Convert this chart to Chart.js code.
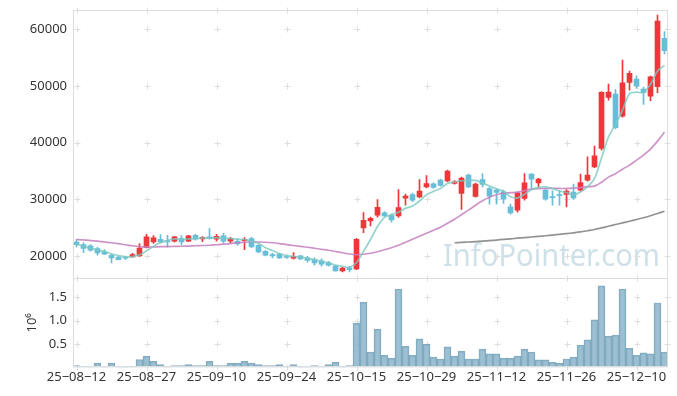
<!DOCTYPE html>
<html><head><meta charset="utf-8">
<script src="https://cdn.jsdelivr.net/npm/chart.js@4.4.1/dist/chart.umd.min.js"></script>
<style>html,body{margin:0;padding:0;background:#fff;}#wrap{width:677px;height:396px;position:relative;}</style>
</head><body><div id="wrap"><canvas id="c" width="677" height="396"></canvas></div>
<script>
const dates = ['25-08-12','25-08-13','25-08-14','25-08-18','25-08-19','25-08-20','25-08-21','25-08-22','25-08-25','25-08-26',
'25-08-27','25-08-28','25-08-29','25-09-01','25-09-02','25-09-03','25-09-04','25-09-05','25-09-08','25-09-09',
'25-09-10','25-09-11','25-09-12','25-09-15','25-09-16','25-09-17','25-09-18','25-09-19','25-09-22','25-09-23',
'25-09-24','25-09-25','25-09-26','25-09-29','25-09-30','25-10-01','25-10-02','25-10-10','25-10-13','25-10-14',
'25-10-15','25-10-16','25-10-17','25-10-20','25-10-21','25-10-22','25-10-23','25-10-24','25-10-27','25-10-28',
'25-10-29','25-10-30','25-10-31','25-11-03','25-11-04','25-11-05','25-11-06','25-11-07','25-11-10','25-11-11',
'25-11-12','25-11-13','25-11-14','25-11-17','25-11-18','25-11-19','25-11-20','25-11-21','25-11-24','25-11-25',
'25-11-26','25-11-27','25-11-28','25-12-01','25-12-02','25-12-03','25-12-04','25-12-05','25-12-08','25-12-09',
'25-12-10','25-12-11','25-12-12','25-12-15','25-12-16'];

const opens = [22470,22010,21770,21310,20710,20120,19820,19720,19820,20000,
21480,22470,22950,22650,22600,23070,22600,23660,23000,23360,
22950,23530,22600,22600,22700,23070,21890,20830,20250,20300,
19820,19590,20000,19650,19360,19120,18830,18230,17350,17920,
17700,24950,26190,27190,27600,27190,27070,30200,30850,30430,
32190,32720,33380,33250,32790,31030,34260,30500,33500,31910,
31610,31310,28660,28070,30140,34440,32900,31610,30460,30810,
30850,31260,31610,33380,35730,38980,47990,48570,44690,50640,
51220,49450,48220,49860,58410];

const highs = [22950,22300,22010,21500,21130,20300,19950,19950,20470,22190,
23830,23600,23780,23660,23480,23600,23660,23800,23400,24840,
23830,24000,23300,23070,23250,23300,22000,20950,20480,20470,
20000,20600,20120,19950,19680,19500,19060,18360,18000,18180,
23130,27670,26840,29960,27810,27370,31730,30900,31080,33500,
34200,32900,33550,35140,33290,33900,34440,32850,34560,32140,
31790,31610,29140,31260,34560,34560,33680,31790,31490,31490,
31730,32670,34440,37490,39380,49010,50340,49400,54580,52640,
51810,49810,51750,62530,59580];

const lows = [21590,20600,20830,20120,20250,18760,19300,19360,19770,19900,
21400,22200,22300,21590,22420,22000,22500,22770,22500,22950,
22600,22240,22240,21890,21130,21500,20530,20000,19650,19560,
19600,19420,19360,18890,18360,18180,18180,17300,17200,17200,
17560,24130,25300,26840,26990,25950,26800,28960,29580,30250,
32000,31900,32320,33080,32670,28200,32050,30370,32190,29140,
29140,29260,27370,27720,29840,31910,32190,29840,28960,28960,
28660,29980,31430,33200,35580,38680,47510,42480,44510,49280,
49580,46750,47390,48800,55640];

const closes = [22010,21310,21010,20530,20300,19650,19360,19600,20250,21410,
23360,23180,22470,22470,23360,22470,23530,22950,23300,23070,
23480,22600,23070,22120,22950,21590,20710,20120,20000,19650,
19720,19950,19470,19190,18760,18530,18360,17350,17880,17560,
22950,26300,26660,28600,27070,26360,28540,30550,29840,31430,
32790,32090,32440,34970,33080,33730,32190,32670,32620,30550,
31200,30020,27600,31130,32900,33550,33550,30020,30280,30640,
31430,30250,32970,34260,37670,48870,48930,42620,50570,52230,
49990,48800,51630,61470,56220];

const ma5 = [22070,21710,21360,21050,20800,20380,20060,19870,19890,20200,
20900,21700,22350,22750,23000,22950,23000,23080,23170,23140,
23220,23100,23090,22930,22900,22530,22250,21450,20950,20420,
20080,19940,19790,19570,19330,19060,18760,18400,18180,18000,
18820,20800,22900,25200,26800,27300,27700,28400,28800,29700,
30800,31400,31900,32800,33050,33270,33300,33330,32850,32350,
31850,31400,30450,30250,30900,31700,32100,32200,31900,31450,
31200,30750,31300,32200,33700,37300,41000,43200,45750,48650,
48900,48850,50300,52650,53650];

const ma20 = [22900,22830,22720,22600,22470,22330,22160,21980,21800,21660,
21590,21590,21630,21660,21680,21710,21750,21800,21840,21890,
21980,22070,22190,22330,22420,22460,22460,22420,22330,22190,
22010,21840,21680,21540,21360,21180,21010,20780,20570,20340,
20210,20300,20480,20740,21100,21450,21890,22420,22950,23480,
24010,24540,25070,25780,26490,27280,28080,28960,29750,30370,
30810,31080,31170,31260,31520,31790,31870,31910,31910,31910,
31910,31960,32050,32230,32320,33020,33910,34520,35320,36030,
36910,37790,38850,40270,41860];

const ma60 = [null,null,null,null,null,null,null,null,null,null,
null,null,null,null,null,null,null,null,null,null,
null,null,null,null,null,null,null,null,null,null,
null,null,null,null,null,null,null,null,null,null,
null,null,null,null,null,null,null,null,null,null,
null,null,null,null,22330,22390,22460,22540,22630,22720,
22810,22920,23020,23130,23230,23340,23450,23570,23690,23820,
23940,24080,24240,24450,24670,24950,25250,25550,25830,26130,
26430,26750,27100,27490,27900];

const volumeMillions = [0.04,0.02,0.02,0.09,0.02,0.09,0.02,0.01,0.02,0.17,
0.24,0.13,0.06,0.02,0.04,0.04,0.06,0.04,0.04,0.13,
0.04,0.04,0.09,0.09,0.13,0.09,0.06,0.04,0.04,0.06,
0.02,0.06,0.01,0.02,0.04,0.02,0.06,0.11,0.01,0.04,
0.95,1.40,0.33,0.82,0.26,0.20,1.68,0.45,0.26,0.61,
0.50,0.22,0.18,0.44,0.24,0.35,0.18,0.18,0.39,0.29,
0.29,0.20,0.20,0.24,0.39,0.33,0.16,0.16,0.11,0.09,
0.18,0.22,0.48,0.59,1.02,1.75,0.67,0.69,1.68,0.41,
0.26,0.31,0.29,1.38,0.33];

const xTickLabels = ['25-08-12','25-08-27','25-09-10','25-09-24','25-10-15','25-10-29','25-11-12','25-11-26','25-12-10'];
const priceTicks = [20000,30000,40000,50000,60000];
const volumeTicks = [0.5,1.0,1.5];
const volumeTitle = '10\u2076';
const watermark = 'InfoPointer.com';

const UP = 'rgb(238,55,58)', DOWN = 'rgb(104,190,216)';
const candleColors = closes.map((c,i) => c >= opens[i] ? UP : DOWN);

Chart.defaults.font.family = '"Noto Sans", sans-serif';
Chart.defaults.font.size = 13;
Chart.defaults.color = '#333';

const GRID = '#dedede';
const decor = {
  id: 'decor',
  beforeDatasetsDraw(chart) {
    const {ctx, chartArea: a, scales} = chart;
    ctx.save();
    ctx.font = '31px "Noto Sans", sans-serif';
    ctx.fillStyle = 'rgba(165,198,214,0.55)';
    ctx.textBaseline = 'alphabetic';
    const w = ctx.measureText(watermark).width;
    ctx.translate(443, 266);
    ctx.scale(217 / w, 1);
    ctx.fillText(watermark, 0, 0);
    ctx.restore();

    ctx.save();
    ctx.strokeStyle = GRID;
    ctx.lineWidth = 1;
    const xs = scales.x.ticks.map(t => Math.round(scales.x.getPixelForValue(t.value)) + 0.5);
    const ys = priceTicks.map(v => scales.y.getPixelForValue(v))
      .concat(volumeTicks.map(v => scales.yv.getPixelForValue(v)))
      .map(y => Math.round(y) + 0.5);
    const s = 3;
    ctx.beginPath();
    for (const x of xs) {
      for (const y of ys) {
        ctx.moveTo(x - s, y); ctx.lineTo(x + s, y);
        ctx.moveTo(x, y - s); ctx.lineTo(x, y + s);
      }
      for (const yb of [a.top, scales.y.bottom, a.bottom]) {
        const yy = Math.round(yb) + 0.5;
        ctx.moveTo(x, yy - s); ctx.lineTo(x, yy + s);
      }
    }
    for (const y of ys) {
      const xr = Math.round(a.right) - 0.5;
      ctx.moveTo(xr - s, y); ctx.lineTo(xr + s, y);
    }
    ctx.stroke();
    ctx.restore();
  },
  afterDraw(chart) {
    const {ctx, chartArea: a, scales} = chart;
    ctx.save();
    ctx.strokeStyle = '#dcdcdc';
    ctx.lineWidth = 1;
    const l = Math.round(a.left) + 0.5, r = Math.round(a.right) - 0.5;
    const t = Math.round(a.top) + 0.5, b = Math.round(a.bottom) - 0.5;
    ctx.strokeRect(l, t, r - l, b - t);
    const sep = Math.round(scales.y.bottom) + 0.5;
    ctx.beginPath(); ctx.moveTo(l, sep); ctx.lineTo(r, sep); ctx.stroke();
    ctx.restore();
  }
};

const fitY = s => { s.width = 73; s.paddingTop = 0; s.paddingBottom = 0; };

new Chart(document.getElementById('c'), {
  data: {
    labels: dates,
    datasets: [
      {type:'line', label:'MA5', data: ma5, yAxisID:'y', borderColor:'rgba(125,200,192,0.8)', borderWidth:1.7, pointRadius:0, tension:0.3, order:1},
      {type:'line', label:'MA20', data: ma20, yAxisID:'y', borderColor:'rgba(196,128,190,0.85)', borderWidth:1.7, pointRadius:0, tension:0.3, order:1},
      {type:'line', label:'MA60', data: ma60, yAxisID:'y', borderColor:'rgba(135,135,135,0.9)', borderWidth:1.7, pointRadius:0, tension:0.3, order:1},
      {type:'bar', label:'wick', data: lows.map((l,i) => [l, highs[i]]), yAxisID:'y', backgroundColor: candleColors, barThickness:1, grouped:false, order:3},
      {type:'bar', label:'body', data: opens.map((o,i) => [o, closes[i]]), yAxisID:'y', backgroundColor: candleColors, barThickness:5, minBarLength:1, grouped:false, order:2},
      {type:'bar', label:'volume', data: volumeMillions, yAxisID:'yv', backgroundColor:'rgba(128,174,197,0.78)', borderColor:'rgba(95,145,170,0.75)', borderWidth:1, barPercentage:1, categoryPercentage:1, grouped:false, order:4}
    ]
  },
  options: {
    responsive: false,
    animation: false,
    layout: {padding: {top: 10, right: 9, bottom: 9, left: 0}},
    plugins: {legend: {display: false}, tooltip: {enabled: false}},
    scales: {
      x: {
        type: 'category', offset: true,
        grid: {display: false, drawTicks: false}, border: {display: false},
        ticks: {autoSkip: false, maxRotation: 0, minRotation: 0, padding: 2, color: '#333',
          callback: function(v) { return this.getLabelForValue(v).replace(/-/g, '\u2212'); }},
        afterBuildTicks: s => { s.ticks = s.ticks.filter(t => xTickLabels.includes(dates[t.value])); }
      },
      yv: {
        type: 'linear', position: 'left', stack: 'main', stackWeight: 1,
        min: 0, max: 1.91,
        grid: {display: false, drawTicks: false}, border: {display: false},
        ticks: {padding: 6, color: '#333', callback: v => v.toFixed(1)},
        afterBuildTicks: s => { s.ticks = volumeTicks.map(v => ({value: v})); },
        title: {display: true, text: volumeTitle, color: '#333', font: {size: 13}, padding: {top: 24, bottom: 0}},
        afterFit: fitY
      },
      y: {
        type: 'linear', position: 'left', stack: 'main', stackWeight: 3.01,
        min: 16060, max: 63410,
        grid: {display: false, drawTicks: false}, border: {display: false},
        ticks: {padding: 6, color: '#333', callback: v => String(v)},
        afterBuildTicks: s => { s.ticks = priceTicks.map(v => ({value: v})); },
        afterFit: fitY
      }
    }
  },
  plugins: [decor]
});
</script>
</body></html>
